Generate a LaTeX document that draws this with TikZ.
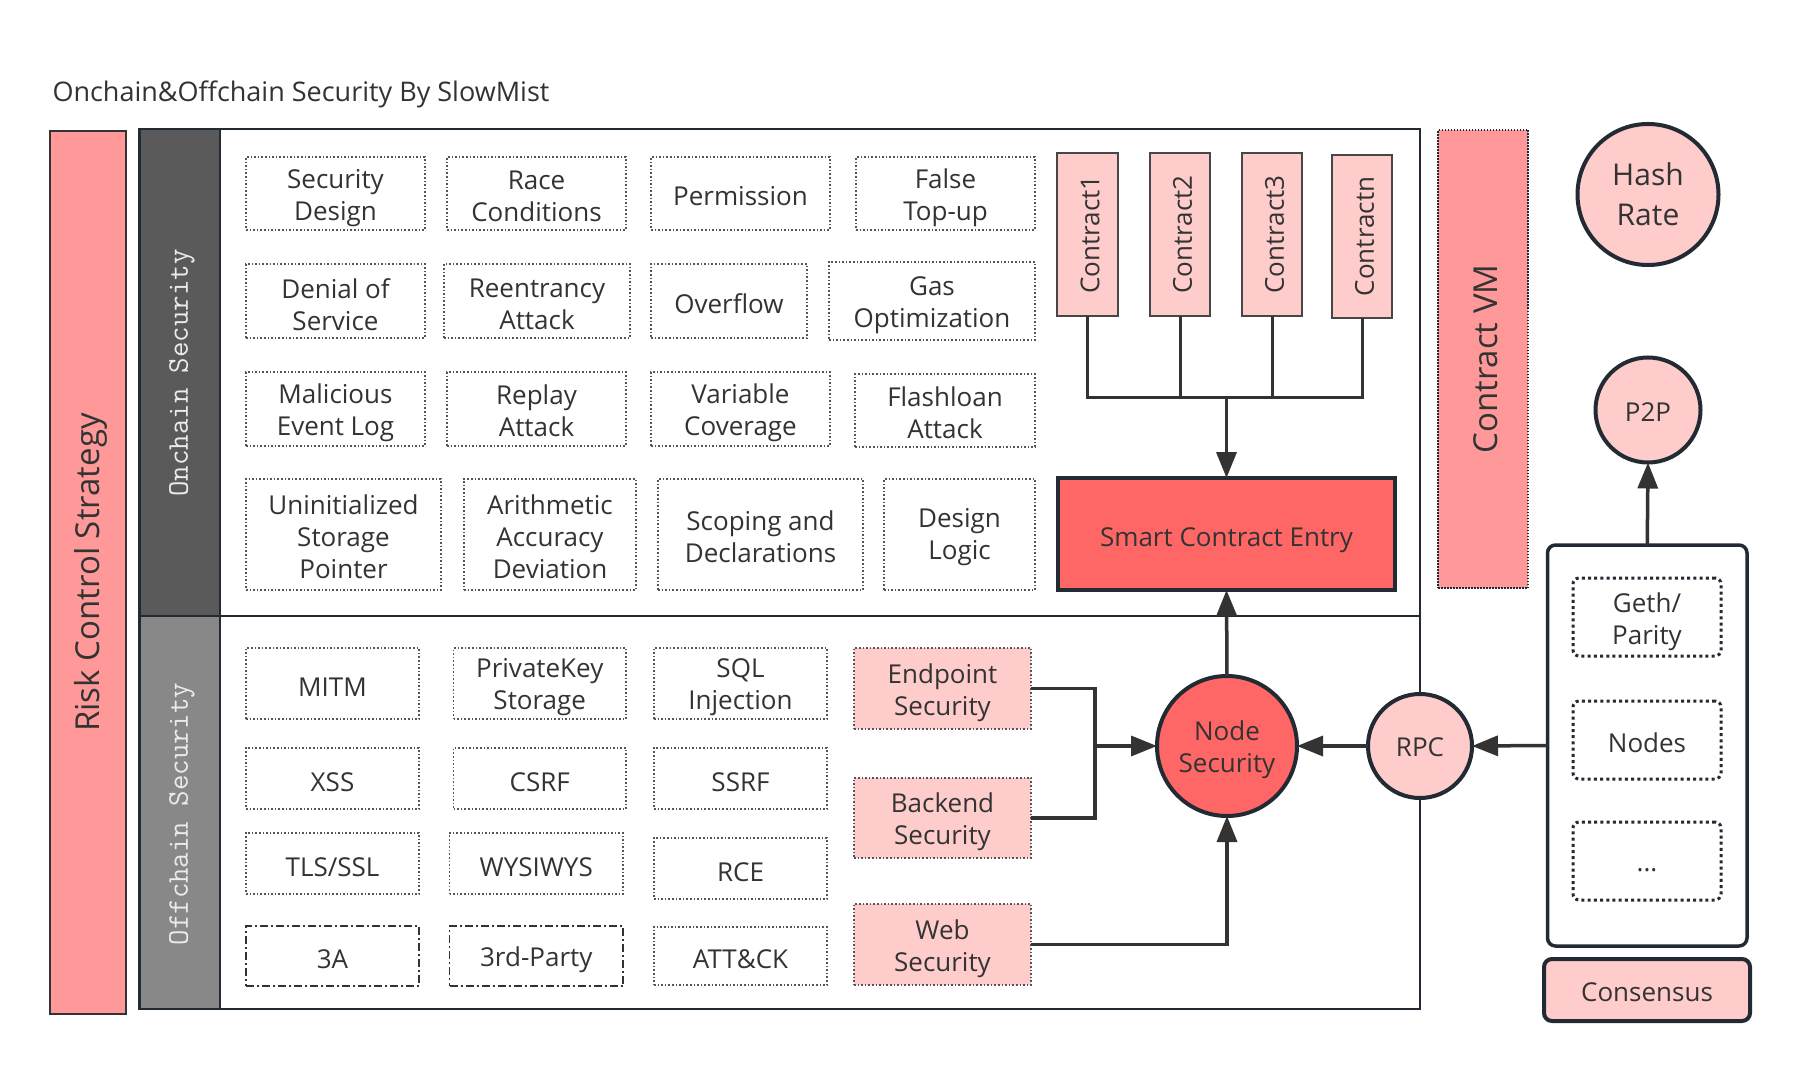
\documentclass[tikz,border=0pt]{standalone}
\usepackage{fontspec}
\setmainfont{Open Sans}
\usetikzlibrary{arrows.meta}
\definecolor{salmon}{HTML}{FF9999}
\definecolor{pinkL}{HTML}{FFCCCC}
\definecolor{redM}{HTML}{FF6666}
\definecolor{bandA}{HTML}{5A5A5A}
\definecolor{bandB}{HTML}{888888}
\definecolor{darkC}{HTML}{222B33}
\definecolor{lineC}{HTML}{333333}
\definecolor{txtC}{HTML}{333333}
\definecolor{itemC}{HTML}{555555}
\newcommand\fsz[2]{\fontsize{#1}{#2}\selectfont}
% box from corners, with its text node shifted down by #8
\newcommand\bx[8]{\node[#6, minimum width={(#4-#2)*1pt}, minimum height={(#5-#3)*1pt}] (#1) at ({(#2+#4)/2},{(#3+#5)/2}) {};
  \node[base, yshift=-#8pt] (#1t) at (#1) {#7};}
\tikzset{
  base/.style={inner sep=0pt, outer sep=0pt, align=center, text=txtC, font=\fsz{26}{32}},
  itm/.style={base, draw=itemC, line width=1.3pt, dash pattern=on 1.6pt off 2pt},
  dd/.style={base, draw=lineC, line width=1.4pt, dash pattern=on 8pt off 3pt on 2pt off 3pt},
  pitm/.style={itm, fill=pinkL},
  cbox/.style={base, draw=lineC!90, line width=2pt, fill=pinkL},
  scebox/.style={base, draw=darkC, line width=4pt, fill=redM},
  circ/.style={base, circle, draw=darkC, line width=4pt},
  nbox/.style={base, draw=darkC, line width=3pt, dash pattern=on 3pt off 3.2pt, rounded corners=6pt},
  conn/.style={draw=lineC, line width=3.5pt},
  arr/.style={conn, -{Triangle[length=26pt,width=20pt]}},
  vtxt/.style={base, xshift=2.5pt, rotate=90},
}
\begin{document}
\begin{tikzpicture}[x=1pt,y=-1pt]
\useasboundingbox[fill=white] (0,0) rectangle (1800,1070);

% title
\node[base, anchor=west, font=\fsz{27}{32}] (title) at (52.5,94) {Onchain\&Offchain Security By SlowMist};

% risk control strategy
\bx{rcs}{50}{131}{126}{1014}{base, fill=salmon, draw=lineC, line width=2pt}{}{0}
\node[vtxt, font=\fsz{33}{36}] (rcsv) at (rcs) {Risk Control Strategy};

% main frame and bands
\fill[bandA] (139.5,129) rectangle (220,616);
\fill[bandB] (139.5,616) rectangle (220,1009);
\draw[darkC, line width=2.5pt] (220,129) -- (220,1009);
\draw[darkC, line width=2.5pt] (139.5,616) -- (1420,616);
\draw[darkC, line width=2.5pt] (139.5,129) rectangle (1420,1009);
\node[rotate=90, text=white!92!black, font=\ttfamily\fsz{30}{30}, inner sep=0pt] (ont) at (182,373) {Onchain Security};
\node[rotate=90, text=white!92!black, font=\ttfamily\fsz{30}{30}, inner sep=0pt] (offt) at (182,814) {Offchain Security};

% onchain items
\bx{sd}{246}{157}{425}{230}{itm}{Security\\Design}{4.5}
\bx{rc}{447}{157}{626}{230}{itm}{Race\\Conditions}{2.5}
\bx{pm}{651}{157}{830}{230}{itm}{Permission}{3}
\bx{ft}{856}{157}{1035}{230}{itm}{False\\Top-up}{4.5}
\bx{dos}{246}{264}{425}{338}{itm}{Denial of\\Service}{4}
\bx{ra}{444}{264}{630}{338}{itm}{Reentrancy\\Attack}{3}
\bx{of}{651}{264}{807}{338}{itm}{Overflow}{3}
\bx{go}{829}{262}{1035}{340}{itm}{Gas\\Optimization}{4}
\bx{mel}{246}{372}{425}{446}{itm}{Malicious\\Event Log}{4}
\bx{rpa}{447}{372}{626}{446}{itm}{Replay\\Attack}{1.5}
\bx{vc}{651}{372}{830}{446}{itm}{Variable\\Coverage}{4}
\bx{fa}{855}{374}{1035}{447}{itm}{Flashloan\\Attack}{2}
\bx{usp}{246}{479}{441}{590}{itm}{Uninitialized\\Storage\\Pointer}{2.5}
\bx{aad}{464}{479}{636}{590}{itm}{Arithmetic\\Accuracy\\Deviation}{2.5}
\bx{sad}{658}{479}{863}{590}{itm}{Scoping and\\Declarations}{2.5}
\bx{dl}{884}{479}{1035}{590}{itm}{Design\\Logic}{3}

% contracts
\bx{c1}{1057}{153}{1118}{316}{cbox}{}{0}
\bx{c2}{1150}{153}{1210}{316}{cbox}{}{0}
\bx{c3}{1242}{153}{1302}{316}{cbox}{}{0}
\bx{cn}{1332}{155}{1392}{318}{cbox}{}{0}
\node[vtxt] (c1v) at (c1) {Contract1};
\node[vtxt] (c2v) at (c2) {Contract2};
\node[vtxt] (c3v) at (c3) {Contract3};
\node[vtxt] (cnv) at (cn) {Contractn};
\bx{sce}{1058}{478}{1395}{590}{scebox}{Smart Contract Entry}{6.5}
\coordinate (bus) at (1226.5,397);
\draw[conn, line width=3pt] (c1.south) -- (c1.south |- bus) -- (cn.south |- bus) -- (cn.south);
\draw[conn, line width=3pt] (c2.south) -- (c2.south |- bus);
\draw[conn, line width=3pt] (c3.south) -- (c3.south |- bus);
\draw[arr] (bus) -- (sce.north);

% offchain items
\bx{mitm}{246}{648}{419}{719}{itm}{MITM}{3.5}
\bx{pks}{453.5}{648}{626}{719}{itm}{PrivateKey\\Storage}{4}
\bx{sql}{654}{648}{827}{719}{itm}{SQL\\Injection}{4}
\bx{eps}{854}{648}{1031}{729}{pitm}{Endpoint\\Security}{4}
\bx{xss}{246}{748}{419}{809}{itm}{XSS}{3.5}
\bx{csrf}{453.5}{748}{626}{809}{itm}{CSRF}{3.5}
\bx{ssrf}{654}{748}{827}{809}{itm}{SSRF}{3.5}
\bx{bes}{854}{778}{1031}{858}{pitm}{Backend\\Security}{4}
\bx{tls}{246}{833}{419}{894}{itm}{TLS/SSL}{3.5}
\bx{wys}{449.5}{833}{623}{894}{itm}{WYSIWYS}{3.5}
\bx{rce}{654}{838}{827}{899}{itm}{RCE}{3.5}
\bx{wes}{854}{904}{1031}{985}{pitm}{Web\\Security}{4}
\bx{tha}{246}{926}{419}{986}{dd}{3A}{3.5}
\bx{trd}{449.5}{926}{623}{986}{dd}{3rd-Party}{3.5}
\bx{att}{654}{927}{827}{985}{itm}{ATT\&CK}{3.5}

% node security, rpc
\node[circ, fill=redM, minimum size=140pt] (ns) at (1227,746) {};
\node[base, yshift=-4pt] (nst) at (ns) {Node\\Security};
\node[circ, fill=pinkL, minimum size=104pt] (rpc) at (1420,746) {};
\node[base, yshift=-1.5pt] (rpct) at (rpc) {RPC};
\coordinate (j) at (1095,746);
\draw[conn] (eps.east) -- (eps.east -| j) -- (bes.east -| j) -- (bes.east);
\draw[arr] (j) -- (ns.west);
\draw[arr] (wes.east) -| (ns.south);
\draw[arr] (ns.north) -- (sce.south);
\draw[arr] (rpc.west) -- (ns.east);

% contract VM
\bx{cvm}{1438}{130}{1528}{588}{base, fill=salmon, draw=darkC, line width=1.3pt, dash pattern=on 1.5pt off 1.5pt}{}{0}
\node[vtxt, font=\fsz{33}{36}] (cvmv) at (cvm) {Contract VM};

% right column
\node[circ, fill=pinkL, minimum size=141pt] (hash) at (1648,194.5) {};
\node[base, font=\fsz{30}{40}] (hasht) at (hash) {Hash\\Rate};
\node[circ, fill=pinkL, minimum size=105pt] (p2p) at (1648,410) {};
\node[base, yshift=-2.5pt] (p2pt) at (p2p) {P2P};
\bx{cont}{1547.5}{545}{1747}{946}{base, draw=darkC, line width=3.5pt, rounded corners=8pt}{}{0}
\bx{geth}{1573}{578}{1721}{656}{nbox}{Geth/\\Parity}{4.5}
\bx{nodes}{1573}{701}{1721}{779}{nbox}{Nodes}{3}
\bx{more}{1573}{822}{1721}{900}{nbox}{...}{9}
\bx{cons}{1544}{959}{1750}{1021}{base, fill=pinkL, draw=darkC, line width=4pt, rounded corners=8pt}{Consensus}{2.5}
\draw[arr] (cont.north) -- (p2p.south);
\draw[arr] (cont.west) -- (rpc.east);
\end{tikzpicture}
\end{document}
